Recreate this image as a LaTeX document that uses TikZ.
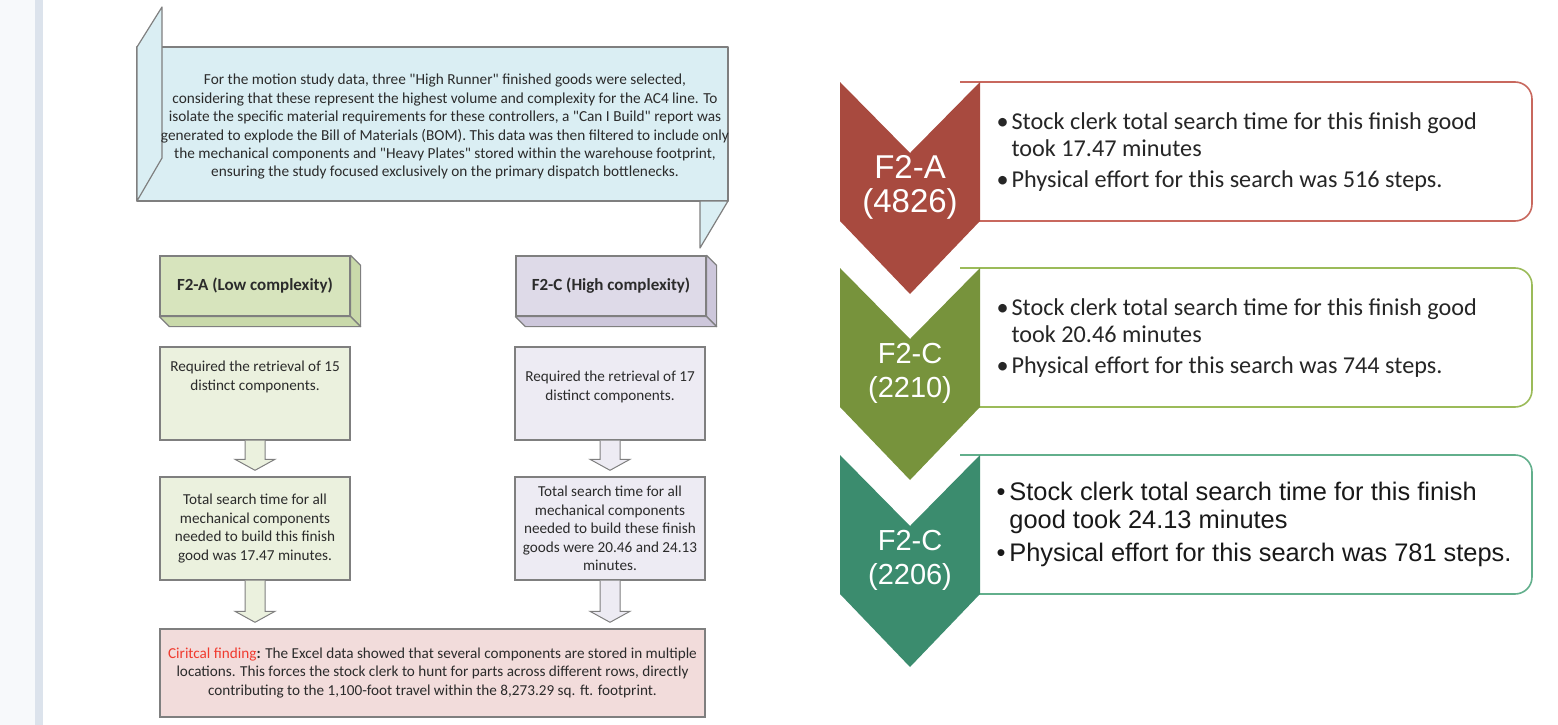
\documentclass[tikz,border=0pt]{standalone}
\usepackage{fontspec}
\setmainfont{Carlito}[Ligatures=TeXOff]
\newfontfamily\arialf{Liberation Sans}
\usetikzlibrary{calc}

\definecolor{pagebg}{HTML}{F7F9FB}
\definecolor{pagestrip}{HTML}{DCE3EC}
\definecolor{edgegrey}{HTML}{7F7F7F}
\definecolor{inktext}{HTML}{2B2B2B}
\definecolor{scrollfill}{HTML}{DAEEF3}
\definecolor{greenhdr}{HTML}{D7E4BD}
\definecolor{greenside}{HTML}{C9D9AA}
\definecolor{greenbox}{HTML}{EBF1DE}
\definecolor{purplehdr}{HTML}{DEDAE8}
\definecolor{purpleside}{HTML}{CDC7DB}
\definecolor{purplebox}{HTML}{EDEBF3}
\definecolor{findfill}{HTML}{F2DCDB}
\definecolor{findred}{HTML}{F03A2E}
\definecolor{chevred}{HTML}{A84A3F}
\definecolor{chevgreen}{HTML}{77933C}
\definecolor{chevteal}{HTML}{3B8C6E}
\definecolor{edgered}{HTML}{C8685E}
\definecolor{edgegreen}{HTML}{9BBB59}
\definecolor{edgeteal}{HTML}{62AF8C}

\tikzset{
  introfont/.style={font=\fontsize{15.3}{18.4}\selectfont, text=inktext},
  leftfont/.style={font=\fontsize{15.2}{18.6}\selectfont, text=inktext},
  scrollst/.style={draw=edgegrey, fill=scrollfill, line width=1.2pt, line join=round},
  hdrbox/.style={draw=edgegrey, line width=1.2pt, minimum width=190pt, minimum height=60pt,
    font=\fontsize{17}{20}\selectfont\bfseries, text=inktext},
  hdrface/.style={draw=edgegrey, line width=1.2pt, line join=round},
  flowbox/.style={draw=edgegrey, line width=1.4pt, minimum width=190pt, leftfont, align=center},
  blockarrow/.style={draw=edgegrey, line width=1pt, line join=miter},
  chevtext/.style={text=white, font=\arialf\fontsize{33}{34}\selectfont, align=center},
  chevtextsm/.style={text=white, font=\arialf\fontsize{29}{34}\selectfont, align=center},
  bulletcal/.style={font=\fontsize{24.2}{27}\selectfont, text=black!85, align=left, anchor=west},
  bulletarial/.style={font=\arialf\fontsize{25.4}{28.5}\selectfont, text=black!90, align=left, anchor=west},
}

% block arrow pointing down from the bottom of one node to the top of another
\newcommand\downblock[3]{%
  \filldraw[blockarrow, fill=#3] let \p1=(#1.south), \p2=(#2.north) in
    (\x1-10,\y1) -- (\x1-10,\y2+17) -- (\x1-20,\y2+17) -- (\x1,\y2+6)
    -- (\x1+20,\y2+17) -- (\x1+10,\y2+17) -- (\x1+10,\y1);
}

% chevron: left x, top y (positive down), colour
\newcommand\chevron[3]{%
  \fill[#3] (#1,-#2) -- (#1+70,-#2-71) -- (#1+140,-#2) -- (#1+140,-#2-139)
    -- (#1+70,-#2-212) -- (#1,-#2-139) -- cycle;
}

% card with rounded right corners: top y (positive down), edge colour
\newcommand\card[2]{%
  \filldraw[draw=#2, fill=white, line width=1.6pt]
    (960,-#1) -- (1515,-#1) arc[start angle=90, end angle=0, radius=17]
    -- (1532,-#1-122) arc[start angle=0, end angle=-90, radius=17]
    -- (960,-#1-139);
}

\begin{document}
\begin{tikzpicture}[x=1pt, y=1pt]
\useasboundingbox (0,0) rectangle (1558,-725);

% page margin
\fill[pagebg] (0,0) rectangle (35,-725);
\fill[pagestrip] (35,0) rectangle (43,-725);

% ---------- introductory scroll ----------
\filldraw[scrollst] (137,-47) rectangle (728,-201);
\filldraw[scrollst] (137,-47) -- (162,-7) -- (162,-158) -- (137,-201) -- cycle;
\filldraw[scrollst] (700,-201) -- (728,-201) -- (700,-248) -- cycle;
\node[introfont, align=center] (intro) at (445,-127)
  {For the motion study data, three "High Runner" finished goods were selected,\\
   considering that these represent the highest volume and complexity for the AC4 line. To\\
   isolate the specific material requirements for these controllers, a "Can I Build" report was\\
   generated to explode the Bill of Materials (BOM). This data was then filtered to include only\\
   the mechanical components and "Heavy Plates" stored within the warehouse footprint,\\
   ensuring the study focused exclusively on the primary dispatch bottlenecks.};

% ---------- column headers (raised boxes) ----------
\node[hdrbox, fill=greenhdr] (hdrA) at (255,-286) {F2-A (Low complexity)};
\filldraw[hdrface, fill=greenside] (hdrA.north east) -- ($(hdrA.north east)+(10,-10)$)
  -- ($(hdrA.south east)+(10,-10)$) -- (hdrA.south east) -- cycle;
\filldraw[hdrface, fill=greenside] (hdrA.south west) -- ($(hdrA.south west)+(10,-10)$)
  -- ($(hdrA.south east)+(10,-10)$) -- (hdrA.south east) -- cycle;

\node[hdrbox, fill=purplehdr] (hdrC) at (611,-286) {F2-C (High complexity)};
\filldraw[hdrface, fill=purpleside] (hdrC.north east) -- ($(hdrC.north east)+(10,-10)$)
  -- ($(hdrC.south east)+(10,-10)$) -- (hdrC.south east) -- cycle;
\filldraw[hdrface, fill=purpleside] (hdrC.south west) -- ($(hdrC.south west)+(10,-10)$)
  -- ($(hdrC.south east)+(10,-10)$) -- (hdrC.south east) -- cycle;

% ---------- flow boxes ----------
\node[flowbox, fill=greenbox, minimum height=93pt] (reqA) at (255,-393.5) {};
\node[leftfont, align=center] (reqAtxt) at (255,-377)
  {Required the retrieval of 15\\distinct components.};
\node[flowbox, fill=greenbox, minimum height=103pt] (timeA) at (255,-528.5)
  {Total search time for all\\mechanical components\\needed to build this finish\\good was 17.47 minutes.};

\node[flowbox, fill=purplebox, minimum height=93pt] (reqC) at (610,-393.5) {};
\node[leftfont, align=center] (reqCtxt) at (610,-387)
  {Required the retrieval of 17\\distinct components.};
\node[flowbox, fill=purplebox, minimum height=103pt] (timeC) at (610,-528.5)
  {Total search time for all\\mechanical components\\needed to build these finish\\goods were 20.46 and 24.13\\minutes.};

\node[flowbox, fill=findfill, minimum width=545pt, minimum height=88pt] (finding) at (432.5,-673)
  {\textcolor{findred}{Ciritcal finding}\textbf{:} The Excel data showed that several components are stored in multiple\\
   locations. This forces the stock clerk to hunt for parts across different rows, directly\\
   contributing to the 1,100-foot travel within the 8,273.29 sq. ft. footprint.};

\downblock{reqA}{timeA}{greenbox}
\downblock{timeA}{finding}{greenbox}
\downblock{reqC}{timeC}{purplebox}
\downblock{timeC}{finding}{purplebox}

% ---------- results: cards and chevrons ----------
\card{82}{edgered}
\chevron{840}{82}{chevred}
\card{268}{edgegreen}
\chevron{840}{268}{chevgreen}
\card{455}{edgeteal}
\chevron{840}{455}{chevteal}

\node[chevtext] (chevA) at (910,-187) {F2-A\\(4826)};
\node[chevtextsm] (chevC1) at (910,-373) {F2-C\\(2210)};
\node[chevtextsm] (chevC2) at (910,-560) {F2-C\\(2206)};

\node[bulletcal] (resA) at (993,-152)
  {\textbullet\hspace{3pt}Stock clerk total search time for this finish good\\
   \phantom{\textbullet}\hspace{3pt}took 17.47 minutes\\[4pt]
   \textbullet\hspace{3pt}Physical effort for this search was 516 steps.};
\node[bulletcal] (resC1) at (993,-338)
  {\textbullet\hspace{3pt}Stock clerk total search time for this finish good\\
   \phantom{\textbullet}\hspace{3pt}took 20.46 minutes\\[4pt]
   \textbullet\hspace{3pt}Physical effort for this search was 744 steps.};
\node[bulletarial] (resC2) at (993,-524)
  {\textbullet\hspace{4pt}Stock clerk total search time for this finish\\
   \phantom{\textbullet}\hspace{4pt}good took 24.13 minutes\\[4pt]
   \textbullet\hspace{4pt}Physical effort for this search was 781 steps.};
\end{tikzpicture}
\end{document}
